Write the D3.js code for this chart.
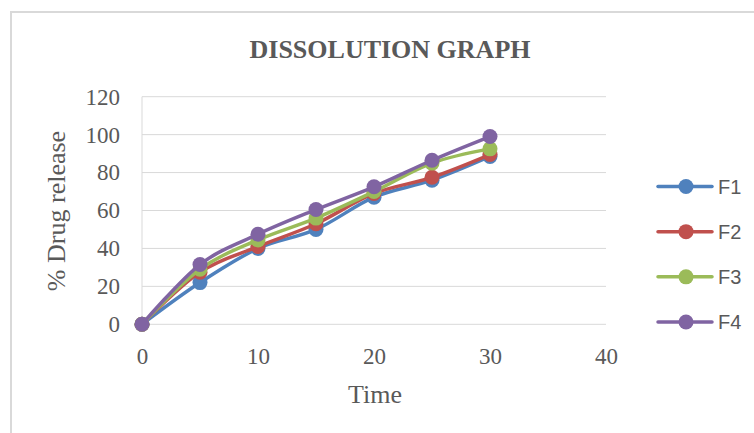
<!DOCTYPE html>
<html>
<head>
<meta charset="utf-8">
<script src="https://cdn.jsdelivr.net/npm/d3@7"></script>
<style>
  html, body { margin: 0; padding: 0; background: #fff; }
  svg { display: block; }
</style>
</head>
<body>
<svg id="chart" width="754" height="433"></svg>
<script>
// ---- data ----
const times = [0, 5, 10, 15, 20, 25, 30];
const seriesNames = ["F1", "F2", "F3", "F4"];
const f1 = [0, 22, 40, 50, 67, 76, 88.5];
const f2 = [0, 27.5, 41, 53, 69, 77.5, 89.5];
const f3 = [0, 29, 44.5, 56, 70, 85, 92.5];
const f4 = [0, 31.5, 47.5, 60.5, 72.5, 86.5, 99];
const xTicks = [0, 10, 20, 30, 40];
const yTicks = [0, 20, 40, 60, 80, 100, 120];
const colors = ["#4F81BD", "#C0504D", "#9BBB59", "#8064A2"];
const titleText = "DISSOLUTION GRAPH";
const xTitle = "Time";
const yTitle = "% Drug release";

const allSeries = [f1, f2, f3, f4].map((vals, i) => ({
  name: seriesNames[i], color: colors[i],
  points: times.map((t, j) => ({ t, v: vals[j] }))
}));

const svg = d3.select("#chart");
const textColor = "#595959";

// chart border (left & top)
svg.append("path")
  .attr("d", "M11,433 L11,12 L754,12")
  .attr("fill", "none").attr("stroke", "#d9d9d9").attr("stroke-width", 2);

const x = d3.scaleLinear().domain([0, 40]).range([142, 606]);
const y = d3.scaleLinear().domain([0, 120]).range([324.3, 96.7]);

// gridlines
svg.append("g").selectAll("line").data(yTicks).join("line")
  .attr("x1", x(0)).attr("x2", x(40))
  .attr("y1", d => y(d)).attr("y2", d => y(d))
  .attr("stroke", "#d9d9d9").attr("stroke-width", 1);
// vertical axis line
svg.append("line")
  .attr("x1", x(0)).attr("x2", x(0)).attr("y1", y(0)).attr("y2", y(120))
  .attr("stroke", "#d9d9d9").attr("stroke-width", 1);

// axes (labels only)
const yAxis = svg.append("g").attr("transform", `translate(${x(0)},0)`)
  .call(d3.axisLeft(y).tickValues(yTicks).tickSize(0).tickPadding(22));
const xAxis = svg.append("g").attr("transform", `translate(0,${y(0)})`)
  .call(d3.axisBottom(x).tickValues(xTicks).tickSize(0).tickPadding(23));
[yAxis, xAxis].forEach(g => {
  g.select(".domain").remove();
  g.selectAll("text")
    .attr("fill", textColor)
    .style("font-family", "'Liberation Serif', 'Times New Roman', serif")
    .style("font-size", "23px");
});

// title
svg.append("text")
  .attr("x", 390).attr("y", 58).attr("text-anchor", "middle")
  .attr("fill", textColor)
  .style("font-family", "'Liberation Serif', 'Times New Roman', serif")
  .style("font-size", "26px").style("font-weight", "bold")
  .text(titleText);

// axis titles
svg.append("text")
  .attr("x", 375).attr("y", 403).attr("text-anchor", "middle")
  .attr("fill", textColor)
  .style("font-family", "'Liberation Serif', 'Times New Roman', serif")
  .style("font-size", "26px")
  .text(xTitle);
svg.append("text")
  .attr("transform", "translate(65,211) rotate(-90)")
  .attr("text-anchor", "middle")
  .attr("fill", textColor)
  .style("font-family", "'Liberation Serif', 'Times New Roman', serif")
  .style("font-size", "26px")
  .text(yTitle);

// lines
const line = d3.line().x(d => x(d.t)).y(d => y(d.v)).curve(d3.curveCatmullRom.alpha(0));
const sg = svg.append("g").selectAll("g").data(allSeries).join("g");
sg.append("path")
  .attr("d", d => line(d.points))
  .attr("fill", "none").attr("stroke", d => d.color).attr("stroke-width", 3.5)
  .attr("stroke-linejoin", "round");
sg.selectAll("circle").data(d => d.points.map(p => ({ ...p, color: d.color }))).join("circle")
  .attr("cx", d => x(d.t)).attr("cy", d => y(d.v)).attr("r", 7.5)
  .attr("fill", d => d.color);

// legend
const legendY = d3.scalePoint().domain(seriesNames).range([186.5, 322]);
const lg = svg.append("g").selectAll("g").data(allSeries).join("g")
  .attr("transform", d => `translate(0,${legendY(d.name)})`);
lg.append("line").attr("x1", 658).attr("x2", 712).attr("y1", 0).attr("y2", 0)
  .attr("stroke", d => d.color).attr("stroke-width", 3.5).attr("stroke-linecap", "round");
lg.append("circle").attr("cx", 686).attr("cy", 0).attr("r", 7.5).attr("fill", d => d.color);
lg.append("text").attr("x", 718).attr("y", 7)
  .attr("fill", textColor)
  .style("font-family", "'Liberation Sans', Arial, sans-serif")
  .style("font-size", "20px")
  .text(d => d.name);
</script>
</body>
</html>
